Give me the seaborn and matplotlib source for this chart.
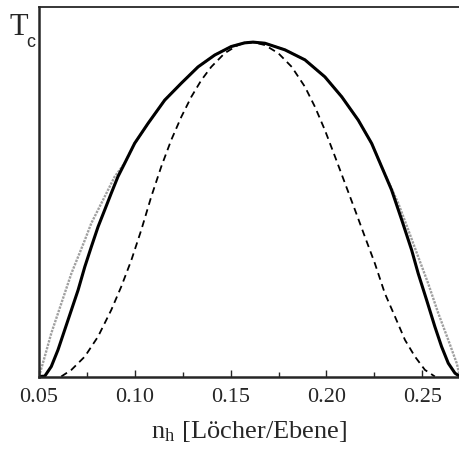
import numpy as np
import pandas as pd
import matplotlib
matplotlib.use('Agg')
import matplotlib.pyplot as plt
from matplotlib.ticker import MultipleLocator
import seaborn as sns

# solid curve
n_solid = [0.0500, 0.0530, 0.0564, 0.0599, 0.0634, 0.0669, 0.0704, 0.0739, 0.0773, 0.0808,
           0.0843, 0.0877, 0.0912, 0.0947, 0.0999, 0.1069, 0.1156, 0.1243, 0.1330, 0.1417,
           0.1503, 0.1573, 0.1617, 0.1679, 0.1784, 0.1888, 0.1992, 0.2080, 0.2166, 0.2236,
           0.2288, 0.2340, 0.2393, 0.2445, 0.2479, 0.2523, 0.2566, 0.2601, 0.2636, 0.2671, 0.2697]
tc_solid = [0.000, 0.001, 0.027, 0.072, 0.126, 0.180, 0.234, 0.297, 0.351, 0.405,
            0.451, 0.496, 0.541, 0.577, 0.631, 0.685, 0.748, 0.794, 0.838, 0.870,
            0.893, 0.903, 0.905, 0.902, 0.884, 0.857, 0.811, 0.757, 0.694, 0.631,
            0.568, 0.505, 0.424, 0.342, 0.279, 0.207, 0.135, 0.081, 0.036, 0.009, 0.000]

# dashed curve
n_dash = [0.0616, 0.0669, 0.0739, 0.0808, 0.0877, 0.0929, 0.0982, 0.1034, 0.1086, 0.1138,
          0.1190, 0.1243, 0.1295, 0.1347, 0.1399, 0.1469, 0.1538, 0.1573, 0.1617, 0.1679,
          0.1749, 0.1819, 0.1888, 0.1940, 0.1992, 0.2045, 0.2097, 0.2149, 0.2201, 0.2253,
          0.2305, 0.2358, 0.2410, 0.2462, 0.2514, 0.2566]
tc_dash = [0.000, 0.018, 0.054, 0.108, 0.180, 0.243, 0.315, 0.397, 0.487, 0.568,
           0.640, 0.703, 0.757, 0.802, 0.838, 0.875, 0.897, 0.903, 0.905, 0.897,
           0.875, 0.838, 0.784, 0.730, 0.667, 0.595, 0.523, 0.451, 0.378, 0.306,
           0.225, 0.162, 0.099, 0.054, 0.018, 0.000]

# grey curve
n_grey = [0.0500, 0.0530, 0.0564, 0.0599, 0.0634, 0.0669, 0.0704, 0.0739, 0.0773, 0.0808,
          0.0843, 0.0895, 0.0947, 0.0999, 0.1069, 0.1156, 0.1243, 0.1330, 0.1417, 0.1503,
          0.1573, 0.1617, 0.1679, 0.1784, 0.1888, 0.1992, 0.2080, 0.2166, 0.2236, 0.2288,
          0.2375, 0.2427, 0.2479, 0.2531, 0.2584, 0.2636, 0.2680, 0.2697]
tc_grey = [0.000, 0.054, 0.117, 0.171, 0.225, 0.279, 0.324, 0.369, 0.415, 0.451,
           0.487, 0.541, 0.577, 0.631, 0.685, 0.748, 0.794, 0.838, 0.870, 0.893,
           0.903, 0.905, 0.902, 0.884, 0.857, 0.811, 0.757, 0.694, 0.631, 0.568,
           0.469, 0.397, 0.324, 0.252, 0.171, 0.099, 0.036, 0.000]

x_ticks = [0.05, 0.10, 0.15, 0.20, 0.25]
x_labels = ['0.05', '0.10', '0.15', '0.20', '0.25']

sns.set_style('ticks')
plt.rcParams['font.family'] = ['Liberation Serif', 'DejaVu Serif']
plt.rcParams['mathtext.fontset'] = 'stix'

fig = plt.figure(figsize=(4.59, 4.5), dpi=100)
ax = fig.add_axes([0.085, 0.1633, 0.915, 0.8211])

sns.lineplot(x=n_grey, y=tc_grey, ax=ax, color='#a0a0a0', lw=1.7, linestyle=(0, (1, 0.5)))
sns.lineplot(x=n_solid, y=tc_solid, ax=ax, color='black', lw=2.2)
sns.lineplot(x=n_dash, y=tc_dash, ax=ax, color='black', lw=1.3, linestyle=(0, (3.8, 2.6)))

ax.set_xlim(0.05, 0.2692)
ax.set_ylim(0, 1)
ax.set_xticks(x_ticks)
ax.set_xticklabels(x_labels)
ax.xaxis.set_minor_locator(MultipleLocator(0.025))
ax.tick_params(axis='x', which='major', direction='in', length=5, width=1, pad=8, labelsize=16)
ax.tick_params(axis='x', which='minor', direction='in', length=3.5, width=1)
ax.set_yticks([])
ax.set_xlabel('n$_\\mathregular{h}$ [Löcher/Ebene]', fontsize=19, labelpad=9)
ax.set_ylabel('')

for s in ['left', 'bottom']:
    ax.spines[s].set_linewidth(1.8)
ax.spines['top'].set_linewidth(1.3)
ax.spines['right'].set_visible(False)

fig.text(0.021, 0.922, 'T', fontsize=22, ha='left', va='baseline')
fig.text(0.058, 0.896, 'c', fontsize=13, ha='left', va='baseline',
         family=['Liberation Sans', 'DejaVu Sans'])

fig.savefig('out.png', dpi=100)
